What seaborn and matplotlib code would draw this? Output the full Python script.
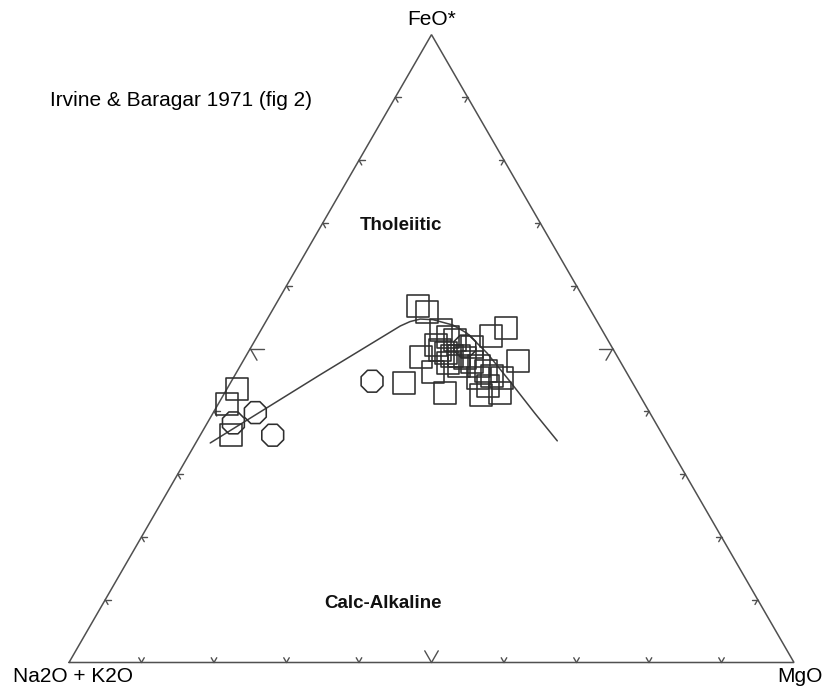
import numpy as np
import pandas as pd
import matplotlib
matplotlib.use("Agg")
import matplotlib.pyplot as plt
import seaborn as sns

# Irvine & Baragar (1971) tholeiitic / calc-alkaline divide (wt%)
bound_feo = [35.0, 45.8, 53.6, 54.3, 54.7, 54.6, 53.8, 52.5, 49.3, 44.8, 39.7, 35.3]
bound_alk = [63.1, 42.5, 27.5, 25.8, 24.2, 22.5, 20.2, 18.9, 17.7, 16.8, 15.9, 15.0]
bound_mgo = [2.0, 11.7, 18.9, 19.9, 21.1, 22.9, 26.1, 28.7, 33.0, 38.4, 44.4, 49.7]

# Samples plotted as squares
sq_feo = [43.5, 41.2, 36.2, 44.5, 56.8, 55.8, 53.0, 51.8, 52.0, 53.3, 48.7, 46.3,
          42.9, 42.6, 42.9, 45.3, 48.0, 49.8, 49.3, 48.8, 48.8, 48.5, 47.9, 47.2,
          46.4, 45.6, 50.2, 47.2, 50.6, 45.3, 47.7, 44.0, 51.4]
sq_alk = [55.1, 57.6, 59.6, 31.5, 23.5, 22.7, 22.2, 21.8, 15.8, 13.1, 27.1, 26.6,
          26.7, 21.9, 19.1, 17.6, 14.1, 23.9, 23.4, 22.8, 21.8, 21.1, 20.5, 19.8,
          19.3, 18.9, 19.3, 22.6, 24.1, 20.9, 23.9, 20.2, 21.1]
sq_mgo = [1.4, 1.2, 4.2, 24.0, 19.7, 21.5, 24.8, 26.4, 32.2, 33.6, 24.2, 27.1,
          30.4, 35.5, 38.0, 37.1, 37.9, 26.3, 27.4, 28.4, 29.4, 30.4, 31.7, 32.9,
          34.3, 35.5, 30.5, 30.2, 25.3, 33.8, 28.4, 35.8, 27.6]

# Samples plotted as octagons
oc_feo = [38.2, 39.8, 36.2, 44.8, 50.4]
oc_alk = [58.3, 54.4, 53.8, 35.8, 20.2]
oc_mgo = [3.6, 5.8, 10.0, 19.4, 29.4]

H = np.sqrt(3) / 2


def to_xy(feo, alk, mgo):
    feo, alk, mgo = (np.asarray(v, dtype=float) for v in (feo, alk, mgo))
    tot = feo + alk + mgo
    f, m = feo / tot, mgo / tot
    return m + f / 2, f * H


sns.set_theme(style="white")
plt.rcParams["font.family"] = ["Liberation Sans", "DejaVu Sans"]

fig = plt.figure(figsize=(8.22, 6.86), dpi=100)
ax = fig.add_axes([0, 0, 1, 1])
PX = 725.0
ax.set_xlim(-69 / PX, 753 / PX)
ax.set_ylim(-23.5 / PX, 662.5 / PX)
ax.axis("off")

edge = "#505050"
# triangle outline
ax.plot([0, 1, 0.5, 0], [0, 0, H, 0], color=edge, lw=1.1, solid_joinstyle="miter")

# tick marks every 10 %, longer at 50 %
c60, s60 = 0.5, H
for i in range(1, 10):
    t = i / 10
    L = (13.5 if i == 5 else 5.5) / PX
    # bottom edge
    p = np.array([t, 0.0])
    for d in ((-c60, s60), (c60, s60)):
        ax.plot([p[0], p[0] + L * d[0]], [p[1], p[1] + L * d[1]], color=edge, lw=1.0)
    # left edge
    p = np.array([t * 0.5, t * H])
    for d in ((1.0, 0.0), (c60, -s60)):
        ax.plot([p[0], p[0] + L * d[0]], [p[1], p[1] + L * d[1]], color=edge, lw=1.0)
    # right edge
    p = np.array([1 - t * 0.5, t * H])
    for d in ((-1.0, 0.0), (-c60, -s60)):
        ax.plot([p[0], p[0] + L * d[0]], [p[1], p[1] + L * d[1]], color=edge, lw=1.0)

# dividing curve
bx, by = to_xy(bound_feo, bound_alk, bound_mgo)
sns.lineplot(x=bx, y=by, sort=False, estimator=None, color="#404040", lw=1.1, ax=ax)

# samples
sx, sy = to_xy(sq_feo, sq_alk, sq_mgo)
sns.scatterplot(x=sx, y=sy, marker="s", s=250, facecolor="none",
                edgecolor="#2e2e2e", linewidth=1.15, ax=ax, zorder=3)
ox, oy = to_xy(oc_feo, oc_alk, oc_mgo)
sns.scatterplot(x=ox, y=oy, marker="8", s=290, facecolor="none",
                edgecolor="#2e2e2e", linewidth=1.15, ax=ax, zorder=3)

# labels
ax.text(0.5, H + 6 / PX, "FeO*", ha="center", va="bottom", fontsize=15, color="black")
ax.text(4 / PX, -4 / PX, "Na2O + K2O", ha="center", va="top", fontsize=15, color="black")
ax.text(1 + 6 / PX, -4 / PX, "MgO", ha="center", va="top", fontsize=15, color="black")
ax.text((50 - 69) / PX, (662.5 - 101) / PX, "Irvine & Baragar 1971 (fig 2)",
        ha="left", va="center", fontsize=15, color="black")
ax.text((401 - 69) / PX, (662.5 - 226) / PX, "Tholeiitic", ha="center", va="center",
        fontsize=13.5, fontweight="bold", color="#111111")
ax.text((383 - 69) / PX, (662.5 - 604) / PX, "Calc-Alkaline", ha="center", va="center",
        fontsize=13.5, fontweight="bold", color="#111111")

fig.savefig("out.png", dpi=100, facecolor="white")
